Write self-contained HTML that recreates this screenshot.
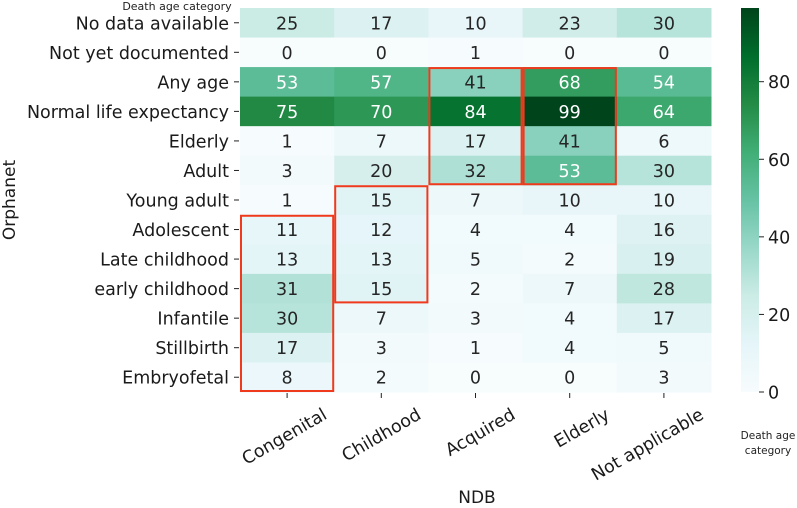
<!DOCTYPE html>
<html><head><meta charset="utf-8"><style>
html,body{margin:0;padding:0;background:#fff;}
svg text{font-family:"DejaVu Sans","Liberation Sans",sans-serif;}
</style></head><body>
<svg id="chart" width="797" height="503" xmlns="http://www.w3.org/2000/svg">
<defs><linearGradient id="cbg" x1="0" y1="1" x2="0" y2="0">
<stop offset="0" stop-color="#f7fcfd"/><stop offset="0.125" stop-color="#e5f5f9"/><stop offset="0.25" stop-color="#ccece6"/><stop offset="0.375" stop-color="#99d8c9"/><stop offset="0.5" stop-color="#66c2a4"/><stop offset="0.625" stop-color="#41ae76"/><stop offset="0.75" stop-color="#238b45"/><stop offset="0.875" stop-color="#006d2c"/><stop offset="1" stop-color="#00441b"/>
</linearGradient></defs>
<g id="cells"></g><g id="boxes"></g><g id="axes"></g>
</svg>
<script>
const rowLabels=["No data available","Not yet documented","Any age","Normal life expectancy","Elderly","Adult","Young adult","Adolescent","Late childhood","early childhood","Infantile","Stillbirth","Embryofetal"];
const colLabels=["Congenital","Childhood","Acquired","Elderly","Not applicable"];
const colCongenital=[25,0,53,75,1,3,1,11,13,31,30,17,8];
const colChildhood=[17,0,57,70,7,20,15,12,13,15,7,3,2];
const colAcquired=[10,1,41,84,17,32,7,4,5,2,3,1,0];
const colElderly=[23,0,68,99,41,53,10,4,2,7,4,4,0];
const colNotApplicable=[30,0,54,64,6,30,10,16,19,28,17,5,3];
const cbTicks=[0,20,40,60,80];
const highlightBoxes=[[0,7,12],[1,6,9],[2,2,5],[3,2,5]];
const vmax=99;
const cols=[colCongenital,colChildhood,colAcquired,colElderly,colNotApplicable];
const X0=240,X1=711,Y0=8,Y1=392;
const FS=17.5;
const cw=(X1-X0)/colLabels.length,rh=(Y1-Y0)/rowLabels.length;
const xC=i=>X0+cw*i, yR=j=>Y0+rh*j;
const stops=["#f7fcfd","#e5f5f9","#ccece6","#99d8c9","#66c2a4","#41ae76","#238b45","#006d2c","#00441b"].map(h=>[1,3,5].map(k=>parseInt(h.substr(k,2),16)));
function color(v){let t=Math.max(0,Math.min(1,v/vmax))*(stops.length-1);let i=Math.min(stops.length-2,Math.floor(t));let f=t-i;
return "rgb("+stops[i].map((c,k)=>Math.round(c+(stops[i+1][k]-c)*f)).join(",")+")";}
const NS="http://www.w3.org/2000/svg";
function mk(tag,attrs,parent){const e=document.createElementNS(NS,tag);for(const k in attrs)e.setAttribute(k,attrs[k]);parent.appendChild(e);return e;}
const gc=document.getElementById("cells"),gb=document.getElementById("boxes"),ga=document.getElementById("axes");
cols.forEach((col,i)=>col.forEach((v,j)=>{
 const r=mk("rect",{x:xC(i),y:yR(j),width:cw+0.5,height:rh+0.5,fill:color(v)},gc);
 
 
 const t=mk("text",{x:xC(i)+cw/2,y:yR(j)+rh/2+6.5,"text-anchor":"middle","font-size":FS,fill:v>=50?"#ffffff":"#262626"},gc);
 t.textContent=v;
 
 
}));
highlightBoxes.forEach(b=>{
 const r=mk("rect",{x:xC(b[0])+1,y:yR(b[1])+1,width:cw-2,height:rh*(b[2]-b[1]+1)-2,fill:"none",stroke:"#f03a1e","stroke-width":"2"},gb);
 
 
});
rowLabels.forEach((l,j)=>{
 const y=yR(j)+rh/2;
 mk("line",{x1:X0-6,x2:X0-1,y1:y,y2:y,stroke:"#222"},ga);
 const t=mk("text",{x:X0-11,y:y+6.5,"text-anchor":"end","font-size":FS,fill:"#1a1a1a"},ga);
 t.textContent=l;
 
 
});
colLabels.forEach((l,i)=>{
 const x=xC(i)+cw/2;
 mk("line",{x1:x,x2:x,y1:Y1+1,y2:Y1+6,stroke:"#222"},ga);
 const ax=x+41,ay=418;
 const t=mk("text",{x:ax,y:ay,"text-anchor":"end","font-size":FS,fill:"#1a1a1a",transform:"rotate(-30 "+ax+" "+ay+")"},ga);
 t.textContent=l;
 
 
});
const CB0=741,CB1=759,CBT=Y0,CBB=Y1;
const cb=mk("rect",{x:CB0,y:CBT,width:CB1-CB0,height:CBB-CBT,fill:"url(#cbg)"},ga);


cbTicks.forEach(v=>{
 const y=CBB-(CBB-CBT)*v/vmax;
 mk("line",{x1:CB1,x2:CB1+5,y1:y,y2:y,stroke:"#222"},ga);
 const t=mk("text",{x:CB1+9,y:y+6.5,"font-size":FS,fill:"#1a1a1a"},ga);
 t.textContent=v;
 
 
});
function label(txt,attrs,name){const t=mk("text",attrs,ga);t.textContent=txt;}
label("Death age category",{x:177,y:10,"text-anchor":"middle","font-size":"11",fill:"#222","font-family":"Liberation Sans"},"top-left-title");
label("Death age",{x:768,y:439,"text-anchor":"middle","font-size":"10.5",fill:"#222","font-family":"Liberation Sans"},"colorbar-title");
label("category",{x:768,y:454,"text-anchor":"middle","font-size":"10.5",fill:"#222","font-family":"Liberation Sans"},"colorbar-title-2");
label("NDB",{x:477,y:503,"text-anchor":"middle","font-size":"17",fill:"#1a1a1a"},"x-axis-title");
label("Orphanet",{x:15,y:200,"text-anchor":"middle","font-size":"17",fill:"#1a1a1a",transform:"rotate(-90 15 200)"},"y-axis-title");
</script>
</body></html>
